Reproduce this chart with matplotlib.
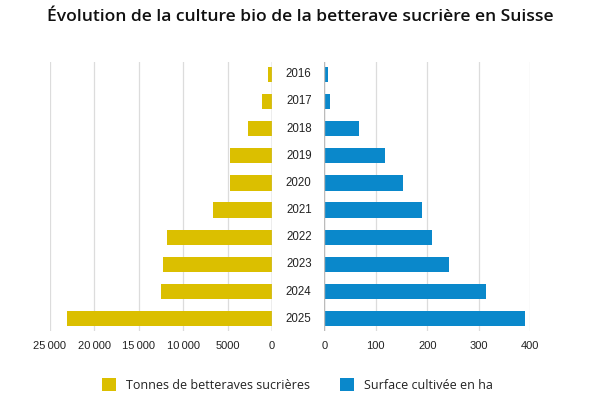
import matplotlib
matplotlib.use("Agg")
import matplotlib.pyplot as plt
from matplotlib.patches import Patch

years = ["2016", "2017", "2018", "2019", "2020", "2021", "2022", "2023", "2024", "2025"]
tonnes = [400, 1170, 2740, 4690, 4700, 6600, 11840, 12330, 12470, 23110]
surface = [7, 12, 67, 118, 152, 190, 209, 242, 314, 390]
left_ticks = [0, 5000, 10000, 15000, 20000, 25000]
left_ticklabels = ["0", "5000", "10\u2009000", "15\u2009000", "20\u2009000", "25\u2009000"]
right_ticks = [0, 100, 200, 300, 400]

YELLOW = "#DBBF00"
BLUE = "#0A88CB"
GRID = "#DCDCDC"
TEXT = "#222222"
TICKFONT = "Liberation Sans"
TITLEFONT = "Open Sans"

fig = plt.figure(figsize=(6, 4), dpi=100)
bottom, height = 0.1725, 0.6725
axL = fig.add_axes([50/600, bottom, (272-50)/600, height])
axR = fig.add_axes([324.3/600, bottom, (530.3-324.3)/600, height])

ypos = list(range(len(years)))
axL.barh(ypos, tonnes, height=0.56, color=YELLOW, zorder=3)
axR.barh(ypos, surface, height=0.56, color=BLUE, zorder=3)

axL.set_xlim(25000, 0)
axR.set_xlim(0, 400)
for ax in (axL, axR):
    ax.set_ylim(9.45, -0.45)
    for s in ax.spines.values():
        s.set_visible(False)
    ax.set_yticks([])
    ax.tick_params(axis="x", length=0, pad=7, labelsize=8, labelcolor=TEXT)
    ax.grid(axis="x", color=GRID, linewidth=0.9, zorder=0)
    ax.axvline(0, color="#BBBBBB", linewidth=1.0, zorder=4)

axL.set_xticks(left_ticks)
axL.set_xticklabels(left_ticklabels, fontfamily=TICKFONT)
axR.set_xticks(right_ticks)
axR.set_xticklabels([str(t) for t in right_ticks], fontfamily=TICKFONT)

# year labels centered between the panels
for i, y in enumerate(years):
    axR.text(-25.5/0.515, i, y, ha="center", va="center", fontsize=8.3,
             fontfamily=TICKFONT, color=TEXT, clip_on=False)

fig.text(0.5, 1 - 17/400, "Évolution de la culture bio de la betterave sucrière en Suisse",
         ha="center", va="center", fontsize=12.6, fontfamily=TITLEFONT,
         fontweight="semibold", color="#111111")

handles = [Patch(facecolor=YELLOW, edgecolor="none", label="Tonnes de betteraves sucrières"),
           Patch(facecolor=BLUE, edgecolor="none", label="Surface cultivée en ha")]
fig.legend(handles=handles, loc="center", bbox_to_anchor=(0.495, 1 - 385/400), ncol=2,
           frameon=False, prop={"family": TITLEFONT, "size": 9},
           handlelength=1.12, handleheight=1.12, handletextpad=0.8, columnspacing=2.4,
           labelcolor=TEXT)

fig.savefig("out.png", dpi=100, facecolor="white")
